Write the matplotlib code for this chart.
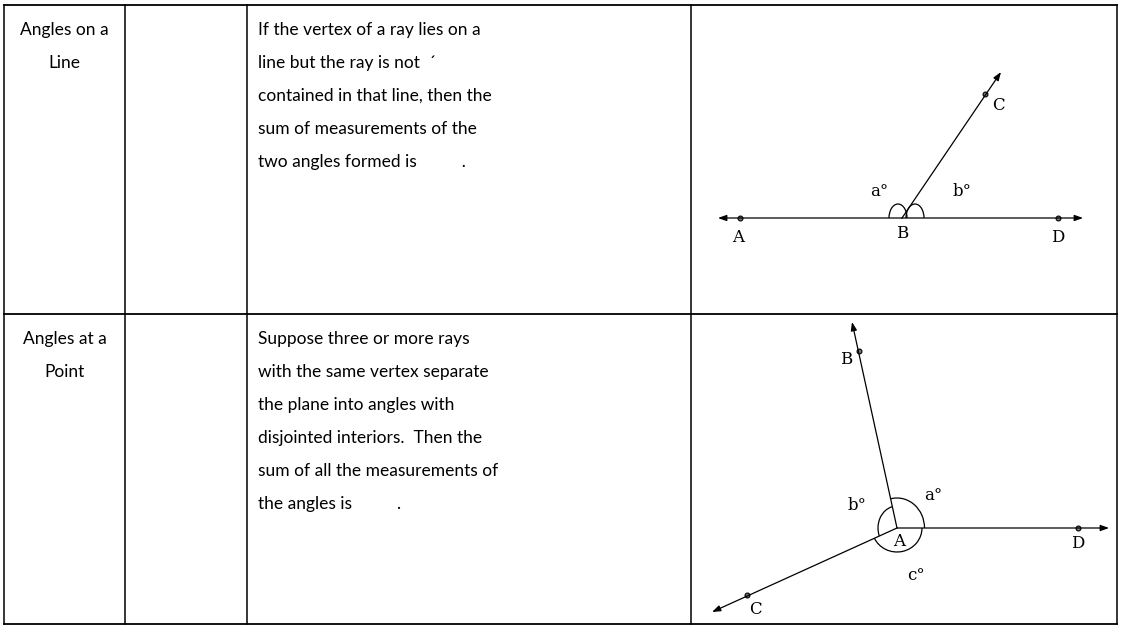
import numpy as np
import matplotlib
matplotlib.use("Agg")
import matplotlib.pyplot as plt
from matplotlib.patches import Arc

# table layout (pixel coordinates of the page)
col_edges = [4, 125, 247, 691, 1117]
row_edges = [5, 314, 624]

names = [["Angles on a", "Line"], ["Angles at a", "Point"]]
statements = [
    ["If the vertex of a ray lies on a",
     "line but the ray is not  \u00b4",
     "contained in that line, then the",
     "sum of measurements of the",
     "two angles formed is          ."],
    ["Suppose three or more rays",
     "with the same vertex separate",
     "the plane into angles with",
     "disjointed interiors.  Then the",
     "sum of all the measurements of",
     "the angles is          ."],
]

# diagram 1: angles on a line
line_pts = {"A": (740, 218), "B": (902, 218), "D": (1058, 218), "C": (985, 94)}
line_tips = [(718, 218), (1083, 218), (1001, 72)]
line_labels = [("A", 738, 237), ("B", 902, 233), ("D", 1058, 238), ("C", 998, 105),
               ("a\u00b0", 879, 191), ("b\u00b0", 962, 191)]

# diagram 2: angles at a point
pt_pts = {"A": (897, 528), "B": (859, 351), "C": (747, 595), "D": (1078, 528)}
pt_tips = [(852, 322), (1109, 528), (712, 612)]
pt_labels = [("B", 846, 360), ("D", 1078, 544), ("C", 755, 609), ("A", 899, 542),
             ("a\u00b0", 933, 496), ("b\u00b0", 857, 506), ("c\u00b0", 916, 576)]

fig = plt.figure(figsize=(11.22, 6.27), dpi=100)
ax = fig.add_axes([0, 0, 1, 1])
ax.set_xlim(0, 1122)
ax.set_ylim(627, 0)
ax.axis("off")

# grid
for x in col_edges:
    ax.plot([x, x], [row_edges[0], row_edges[-1]], color="black", lw=1.1)
for y in row_edges:
    ax.plot([col_edges[0], col_edges[-1]], [y, y], color="black", lw=1.3)

body_font = "Lato"
line_gap = 33
for r in range(2):
    top = row_edges[r] + 25
    for i, s in enumerate(names[r]):
        ax.text((col_edges[0] + col_edges[1]) / 2, top + i * line_gap, s,
                ha="center", va="center", fontsize=12.5, family=body_font)
    for i, s in enumerate(statements[r]):
        ax.text(col_edges[2] + 11, top + i * line_gap, s,
                ha="left", va="center", fontsize=12.5, family=body_font)


def ray(start, tip):
    ax.annotate("", xy=tip, xytext=start,
                arrowprops=dict(arrowstyle="-|>,head_length=0.5,head_width=0.18",
                                color="black", lw=0.9, shrinkA=0, shrinkB=0))


def dots(pts, skip):
    for k, (x, y) in pts.items():
        if k == skip:
            continue
        ax.plot(x, y, "o", ms=3.5, mfc="#777777", mec="black", mew=0.8)


serif = "DejaVu Serif"

# diagram 1
B = line_pts["B"]
for tip in line_tips:
    ray(B, tip)
dots(line_pts, "B")
# y axis is inverted, so the upper half of an arc is 180..360
ax.add_patch(Arc((B[0] - 4, B[1]), 18, 28, theta1=180, theta2=360, color="black", lw=0.9))
ax.add_patch(Arc((B[0] + 13, B[1]), 18, 28, theta1=180, theta2=360, color="black", lw=0.9))
for s, x, y in line_labels:
    ax.text(x, y, s, ha="center", va="center", fontsize=12, family=serif)

# diagram 2
A = pt_pts["A"]
for tip in pt_tips:
    ray(A, tip)
dots(pt_pts, "A")
ang_B = np.degrees(np.arctan2(A[1] - pt_pts["B"][1], pt_pts["B"][0] - A[0]))
ang_C = np.degrees(np.arctan2(A[1] - pt_pts["C"][1], pt_pts["C"][0] - A[0])) % 360
ax.add_patch(Arc(A, 55, 60, theta1=-ang_B, theta2=0, color="black", lw=0.9))
ax.add_patch(Arc(A, 38, 44, theta1=-ang_C, theta2=-ang_B, color="black", lw=0.9))
ax.add_patch(Arc(A, 50, 48, theta1=0, theta2=360 - ang_C, color="black", lw=0.9))
for s, x, y in pt_labels:
    ax.text(x, y, s, ha="center", va="center", fontsize=12, family=serif)

fig.savefig("out.png", dpi=100, facecolor="white")
